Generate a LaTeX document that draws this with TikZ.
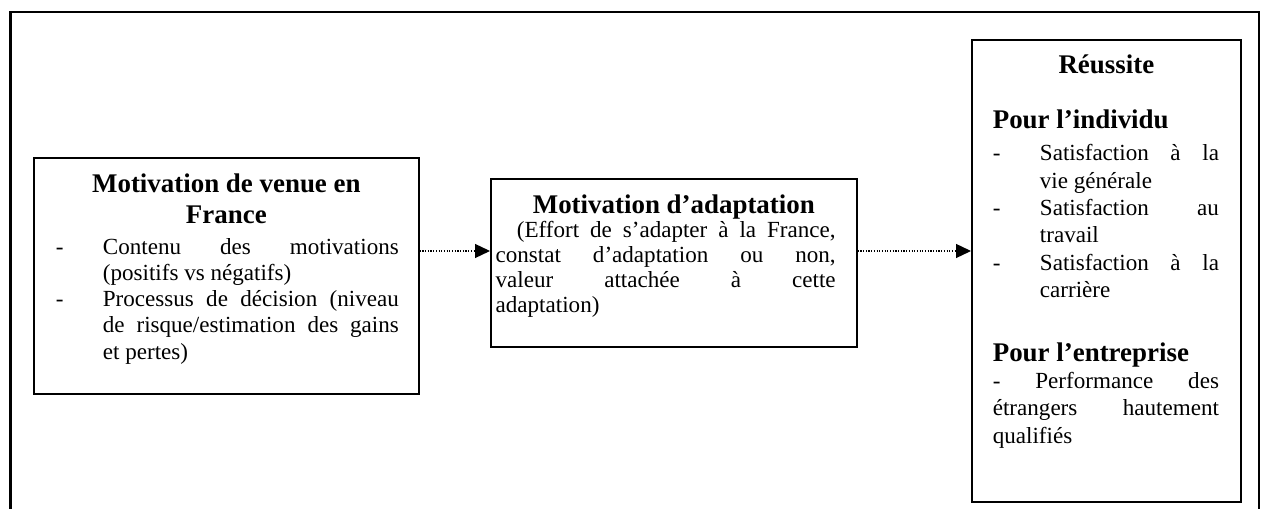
\documentclass[tikz,border=0pt]{standalone}
\usepackage{fontspec}
\setmainfont{Liberation Serif}
\usetikzlibrary{arrows.meta}

\tikzset{
  bloc/.style={draw, line width=0.9pt, inner sep=0pt, anchor=north west},
  fleche/.style={line width=0.6pt, dash pattern=on 0.6pt off 0.8pt,
    -{Triangle[length=7.8pt,width=7.3pt]}},
  cadre/.style={line width=1.1pt}
}
\newcommand{\tiret}{\noindent\llap{\makebox[24.5pt][l]{-}}}
\newcommand{\titre}[2]{{\centering\leftskip=0pt plus 1fil\rightskip=0pt plus 1fil
  \fontsize{#1}{16}\selectfont\bfseries #2\par}}
\newcommand{\corps}{\fontsize{12}{13.6}\selectfont\tolerance=9999
  \emergencystretch=20pt\hyphenpenalty=10000\parindent=0pt}

\begin{document}
\begin{tikzpicture}[x=0.52pt,y=-0.52pt]
\useasboundingbox (0,0) rectangle (1261,509);
\draw[cadre] (10.5,509) -- (10.5,12) -- (1259,12) -- (1259,509);

% motivation de venue
\node[bloc] (venue) at (33,157) {\parbox[t][122.7pt][t]{200.2pt}{\corps
  \titre{14}{\rule{0pt}{18.2pt}Motivation de venue en\\France}
  \vspace{2.4pt}
  {\leftskip=35.9pt\rightskip=10.4pt
  \tiret Contenu des motivations\linebreak (positifs vs négatifs)\par
  \tiret Processus de décision (niveau\linebreak de risque/estimation des gains\linebreak et pertes)\par}}};

% motivation d'adaptation
\node[bloc] (adapt) at (490,178) {\parbox[t][87.4pt][t]{190.3pt}{\corps
  \fontsize{12}{13}\selectfont
  \titre{14}{\rule{0pt}{18.2pt}Motivation d’adaptation}
  \vspace{-0.5pt}
  {\leftskip=2.5pt\rightskip=11pt
  \hspace*{11pt}(Effort de s’adapter à la France,\linebreak constat d’adaptation ou non,\linebreak valeur attachée à cette\linebreak adaptation)\par}}};

% reussite
\node[bloc] (reussite) at (971,39) {\parbox[t][240.2pt][t]{139.9pt}{\corps
  \fontsize{12}{14.2}\selectfont
  \titre{14}{\rule{0pt}{17.7pt}Réussite}
  \vspace{12.6pt}
  {\leftskip=10.9pt\rightskip=11.4pt
  {\fontsize{14}{16}\selectfont\bfseries Pour l’individu\par}
  \vspace{2.4pt}
  {\leftskip=35.4pt
  \tiret Satisfaction à la\linebreak vie générale\par
  \tiret Satisfaction au\linebreak travail\par
  \tiret Satisfaction à la\linebreak carrière\par}
  \vspace{17.2pt}
  {\fontsize{14}{16}\selectfont\bfseries Pour l’entreprise\par}
  - Performance des\linebreak étrangers hautement\linebreak qualifiés\par}}};

\coordinate (ligne) at (0,251);
\draw[fleche] (venue.east |- ligne) -- (adapt.west |- ligne);
\draw[fleche] (adapt.east |- ligne) -- (reussite.west |- ligne);
\end{tikzpicture}
\end{document}
